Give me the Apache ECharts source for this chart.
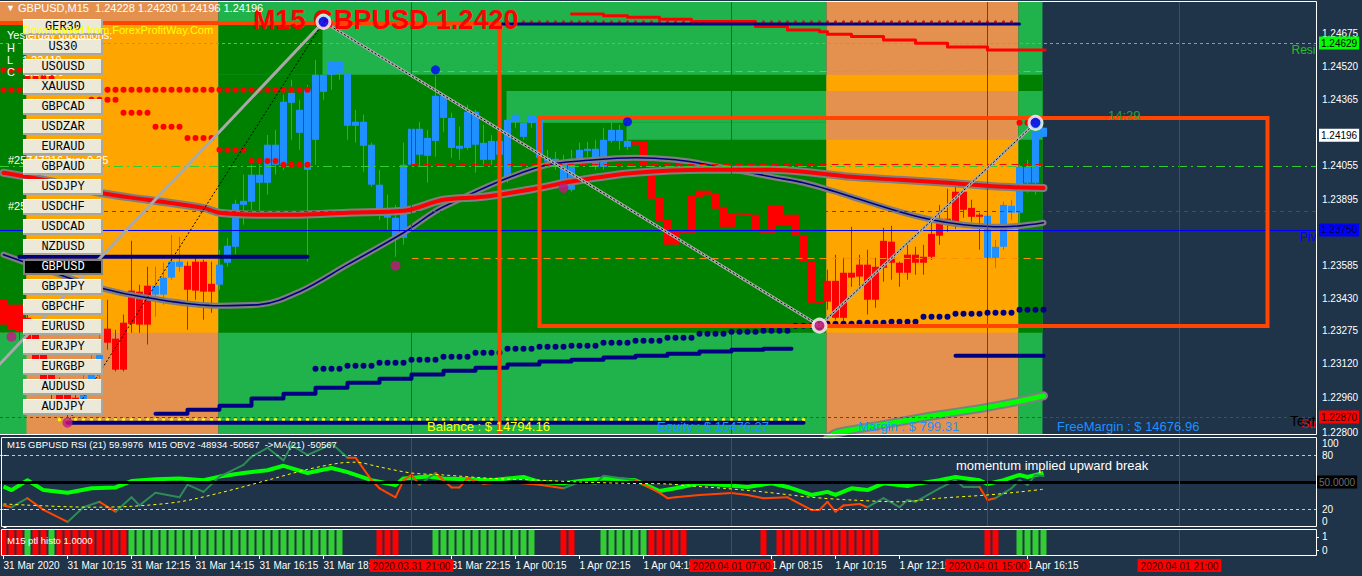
<!DOCTYPE html>
<html>
<head>
<meta charset="utf-8">
<script src="https://cdn.jsdelivr.net/npm/echarts@6/dist/echarts.min.js"></script>
<style>
html,body{margin:0;padding:0;background:#1f3349;overflow:hidden}
#chart{width:1362px;height:576px}
</style>
</head>
<body>
<div id="chart"></div>
<script>
// ================= DATA =================
// M15 bars, index 0 = 31 Mar 08:15
const timeTickIndex = [0,8,16,24,32,40,56,64,72,80,96,104,112,128];
const timeTickText = ['31 Mar 2020','31 Mar 10:15','31 Mar 12:15','31 Mar 14:15','31 Mar 16:15','31 Mar 18:15','31 Mar 22:15','1 Apr 00:15','1 Apr 02:15','1 Apr 04:15','1 Apr 08:15','1 Apr 10:15','1 Apr 12:15','1 Apr 16:15'];
const priceTicks = [1.22800,1.22960,1.23120,1.23275,1.23430,1.23585,1.23740,1.23895,1.24055,1.24210,1.24365,1.24520,1.24675];
// tick labels that are not covered by the price tags
const priceTickLabels = [1.22800,1.22960,1.23120,1.23275,1.23430,1.23585,1.23895,1.24055,1.24365,1.24520,1.24675];

// candles [open, close, low, high]
const candles = [
[1.23422,1.23305,1.23267,1.23469],[1.23399,1.23281,1.23258,1.23431],[1.23399,1.23272,1.23234,1.23422],[1.23337,1.23211,1.23187,1.23375],
[1.23258,1.23117,1.23084,1.23290],[1.23164,1.23046,1.23008,1.23211],[1.23093,1.22976,1.22943,1.23131],[1.23023,1.22929,1.22896,1.23055],
[1.22976,1.22905,1.22868,1.23008],[1.22961,1.22924,1.22882,1.23023],[1.22952,1.23023,1.22929,1.23093],[1.22999,1.23117,1.22976,1.23164],
[1.23084,1.23211,1.23046,1.23258],[1.23286,1.23220,1.23187,1.23422],[1.23239,1.23093,1.23084,1.23281],[1.23314,1.23093,1.23084,1.23352],
[1.23465,1.23309,1.23267,1.23699],[1.23460,1.23305,1.23267,1.23493],[1.23488,1.23305,1.23211,1.23577],[1.23446,1.23488,1.23342,1.23577],
[1.23446,1.23526,1.23399,1.23596],[1.23526,1.23601,1.23516,1.23727],[1.23577,1.23601,1.23554,1.23718],[1.23582,1.23469,1.23281,1.23601],
[1.23601,1.23465,1.23422,1.23619],[1.23601,1.23460,1.23328,1.23610],[1.23497,1.23460,1.23361,1.23601],[1.23493,1.23587,1.23469,1.23657],
[1.23596,1.23676,1.23577,1.23713],[1.23671,1.23873,1.23634,1.23892],[1.23868,1.23887,1.23775,1.24010],[1.23883,1.24010,1.23845,1.24057],
[1.23972,1.24010,1.23831,1.24080],[1.23972,1.24151,1.23916,1.24197],[1.24057,1.24151,1.24010,1.24221],[1.24057,1.24353,1.24033,1.24386],
[1.24348,1.24395,1.24174,1.24456],[1.24207,1.24315,1.24127,1.24362],[1.24033,1.24409,1.23601,1.24432],[1.24174,1.24480,1.24057,1.24550],
[1.24400,1.24480,1.24362,1.24729],[1.24480,1.24541,1.24409,1.24621],[1.24489,1.24541,1.24456,1.24597],[1.24240,1.24484,1.24174,1.24503],
[1.24240,1.24259,1.24160,1.24315],[1.24146,1.24259,1.24024,1.24292],[1.23963,1.24151,1.23953,1.24160],[1.23831,1.23963,1.23798,1.24033],
[1.23808,1.23836,1.23751,1.23916],[1.23713,1.23808,1.23624,1.23868],[1.23713,1.24057,1.23681,1.24160],[1.24057,1.24226,1.24033,1.24268],
[1.24104,1.24226,1.24047,1.24259],[1.24099,1.24183,1.23972,1.24221],[1.24169,1.24381,1.24094,1.24475],[1.24277,1.24381,1.24212,1.24386],
[1.24136,1.24277,1.24090,1.24301],[1.24132,1.24146,1.24080,1.24235],[1.24136,1.24306,1.24127,1.24339],[1.24151,1.24306,1.24019,1.24315],
[1.24080,1.24160,1.24057,1.24245],[1.24080,1.24169,1.24057,1.24197],[1.24104,1.24169,1.24080,1.24221],[1.23986,1.24268,1.23972,1.24292],
[1.24259,1.24292,1.24231,1.24324],[1.24188,1.24254,1.24174,1.24277],[1.24254,1.24287,1.24231,1.24315],[1.24090,1.24277,1.24080,1.24296],
[1.24071,1.24090,1.24057,1.24127],[1.24071,1.24085,1.24033,1.24118],[1.23972,1.24075,1.23958,1.24104],[1.23939,1.24085,1.23930,1.24127],
[1.24085,1.24127,1.24066,1.24160],[1.24122,1.24132,1.24094,1.24165],[1.24047,1.24132,1.24033,1.24174],[1.24047,1.24174,1.24033,1.24231],
[1.24169,1.24221,1.24160,1.24254],[1.24169,1.24221,1.24127,1.24245],[1.24141,1.24169,1.24127,1.24231],[1.24165,1.24151,1.24033,1.24174],
[1.24165,1.24057,1.23986,1.24174],[1.24057,1.23897,1.23868,1.24080],[1.23901,1.23793,1.23775,1.23963],[1.23798,1.23681,1.23624,1.23878],
[1.23742,1.23681,1.23671,1.23878],[1.23746,1.23737,1.23671,1.23789],[1.23911,1.23737,1.23681,1.24000],[1.23935,1.23906,1.23775,1.23986],
[1.23935,1.23916,1.23727,1.23953],[1.23920,1.23850,1.23765,1.23963],[1.23859,1.23765,1.23737,1.23939],[1.23826,1.23765,1.23751,1.23868],
[1.23831,1.23822,1.23789,1.23854],[1.23826,1.23817,1.23775,1.23868],[1.23822,1.23742,1.23713,1.23845],[1.23751,1.23737,1.23704,1.23798],
[1.23868,1.23737,1.23723,1.23916],[1.23864,1.23770,1.23751,1.23916],[1.23822,1.23770,1.23704,1.23845],[1.23822,1.23727,1.23681,1.23831],
[1.23727,1.23601,1.23587,1.23742],[1.23601,1.23408,1.23375,1.23634],[1.23413,1.23404,1.23300,1.23554],[1.23511,1.23413,1.23375,1.23563],
[1.23511,1.23337,1.23328,1.23634],[1.23549,1.23337,1.23319,1.23619],[1.23549,1.23526,1.23483,1.23765],[1.23587,1.23531,1.23483,1.23634],
[1.23587,1.23422,1.23352,1.23657],[1.23577,1.23422,1.23384,1.23619],[1.23699,1.23572,1.23507,1.23760],[1.23695,1.23596,1.23516,1.23770],
[1.23596,1.23549,1.23483,1.23601],[1.23634,1.23549,1.23516,1.23690],[1.23634,1.23596,1.23540,1.23671],[1.23624,1.23596,1.23540,1.23681],
[1.23732,1.23624,1.23610,1.23789],[1.23803,1.23723,1.23681,1.23868],[1.23803,1.23775,1.23742,1.23944],[1.23930,1.23775,1.23756,1.23963],
[1.23930,1.23845,1.23808,1.23963],[1.23854,1.23812,1.23789,1.23892],[1.23822,1.23812,1.23657,1.23831],[1.23619,1.23817,1.23619,1.23845],
[1.23619,1.23671,1.23572,1.23704],[1.23671,1.23868,1.23657,1.23883],[1.23831,1.23864,1.23798,1.23892],[1.23831,1.24047,1.23775,1.24057],
[1.23972,1.24047,1.23925,1.24080],[1.23972,1.24212,1.23916,1.24254],[1.24188,1.24231,1.24188,1.24231]
];

// session boxes [fromBar, toBar, topPrice, bottomPrice, colour]
const sessionZones = [
[-2,27,1.2490,1.2270,'sand'],[-2,3,1.24729,1.23267,'dark'],[-2,3,1.23267,1.2270,'light'],[3,27,1.24729,1.23267,'orange'],
[27,103,1.2490,1.2270,'light'],[27,103,1.24480,1.23267,'dark'],[27,40,1.24729,1.24480,'dark'],
[63,103,1.24404,1.24254,'light'],[78,103,1.24254,1.24174,'light'],
[103,127,1.2490,1.2270,'sand'],[103,127,1.24480,1.23267,'orange'],[103,127,1.24404,1.24174,'sand'],
[127,130,1.2490,1.2270,'light'],[127,130,1.24480,1.23267,'dark'],[127,130,1.24404,1.24174,'light']
];
// rectangle objects [fromBar, toBar, top, bottom]
const rectObjects = [[-8,62,1.24724,1.2260],[67,158,1.24277,1.23298]];

const ma1 = [[0,1.24019],[6,1.23978],[12,1.23925],[18,1.23892],[25,1.23854],[27,1.23831],[32,1.23822],[37,1.23822],[43,1.23831],[50,1.23840],[55,1.23892],[60,1.23906],[67,1.23948],[71,1.23978],[79,1.24019],[88,1.24033],[96,1.24033],[100,1.24024],[106,1.24000],[112,1.23986],[118,1.23972],[125,1.23953],[130,1.23948]];
const ma2 = [[0,1.23634],[6,1.23554],[12,1.23478],[18,1.23431],[27,1.23394],[32,1.23399],[37,1.23460],[43,1.23587],[50,1.23737],[55,1.23859],[67,1.24047],[74,1.24080],[79,1.24090],[84,1.24080],[88,1.24057],[96,1.24000],[100,1.23972],[104,1.23930],[106,1.23906],[112,1.23836],[116,1.23798],[120,1.23775],[125,1.23765],[130,1.23784]];
const maLime = [[103,1.22770],[104,1.22795],[110,1.22835],[116,1.22875],[122,1.22910],[127,1.22945],[130,1.22970]];

const redStepTop = [[71,1.24766],[75,1.24758],[78,1.24751],[82,1.24741],[86,1.24730],[94,1.24707],[98,1.24691],[102,1.24682],[103,1.24671],[106,1.24660],[110,1.24644],[114,1.24628],[118,1.24610],[123,1.24597],[130.2,1.24597]];
const navyStepLow = [[19,1.22886],[23,1.22905],[27,1.22924],[31,1.22957],[35,1.22980],[39,1.23008],[43,1.23032],[47,1.23051],[51,1.23070],[55,1.23088],[59,1.23102],[63,1.23117],[67,1.23131],[71,1.23140],[75,1.23150],[79,1.23159],[83,1.23168],[87,1.23178],[91,1.23187],[95,1.23192],[98.5,1.23192]];
const navyLevels = [ [[2,1.23624],[38,1.23624]], [[8,1.22844],[100,1.22844]], [[62,1.24719],[127,1.24719]], [[119,1.23159],[130,1.23159]] ];

// dotted rows [fromBar, toBar, price, kind]
const dotRows = [
[0,2,1.24503,'red'],[3,6,1.24465,'red'],[7,10,1.24414,'red'],[11,14,1.24362,'red'],[15,18,1.24301,'red'],[19,22,1.24235,'red'],
[23,26,1.24183,'red'],[27,30,1.24127,'red'],[31,34,1.24075,'red'],[35,38,1.24057,'red'],[127,128,1.24254,'red'],[0,38,1.24409,'red'],
[39,42,1.23098,'navy'],[43,46,1.23112,'navy'],[47,50,1.23126,'navy'],[51,54,1.23140,'navy'],[55,58,1.23154,'navy'],[59,62,1.23173,'navy'],
[63,66,1.23192,'navy'],[67,70,1.23201,'navy'],[71,74,1.23206,'navy'],[75,78,1.23220,'navy'],[79,82,1.23229,'navy'],[83,86,1.23243,'navy'],
[87,90,1.23262,'navy'],[91,94,1.23272,'navy'],[95,98,1.23276,'navy'],[99,102,1.23300,'navy'],[103,106,1.23309,'navy'],[107,110,1.23314,'navy'],
[111,114,1.23319,'navy'],[115,118,1.23342,'navy'],[119,122,1.23356,'navy'],[123,126,1.23361,'navy'],[127,130,1.23375,'navy'],
[7,100,1.22858,'yellow'],[63,126,1.24729,'small']
];

const zigzagOuter = [[-1,1.23098],[40,1.24729]];
const zigzagInner = [[8,1.22844],[40,1.24729]];
const zigzagMain = [[40,1.24729],[102,1.23300],[129,1.24254]];
const zigzagPoints = [[40,1.24729,'#0000FF'],[102,1.23300,'#C71585'],[129,1.24254,'#0000FF']];
const fractalUp = [[54,1.24503],[78,1.24259]];
const fractalDown = [[1,1.23248],[8,1.22844],[49,1.23582],[70,1.23948]];

// horizontal levels
const resistance = 1.24629, pivot = 1.23750, support = 1.22870, bid = 1.24196;
const levelR1 = 1.24052, levelStop = 1.23840;
const dayLevels = [[51,130,1.24498,'#FF8C00'],[51,130,1.23619,'#FF8C00'],[51,130,1.24057,'#FF0000']];
const levelTexts = [[161,resistance,'Resistance','#22C022',12],[162,pivot,'Pivot','#0000FF',12],[160.8,support,'Text','#000000',14],[162.2,support,'Support','#FF0000',12]];

// vertical lines
const vLines = [[51,'2020.03.31 21:00'],[91,'2020.04.01 07:00'],[123,'2020.04.01 15:00'],[147,'2020.04.01 21:00']];

// RSI / OBV panel
const rsiLine = [[0,44.8],[1,41],[3,52],[5,41],[8,38],[11,43],[14,44],[16,51],[19,53],[22,54],[25,52],[27,56],[30,60],[33,63],[35,68],[38,60],[41,65.5],[43,61],[46,52],[49,46.7],[50,54],[53,56],[55,54],[58,53],[61,52],[65,55.6],[67,50],[70,48.5],[72,51],[75,54],[79,52],[82,40],[84,43],[87,48.5],[90,46.7],[93,44.5],[96,48.5],[98,44.5],[101,35.6],[103,39],[104,35.6],[106,43],[108,41],[110,48.5],[113,45.6],[114,47.8],[117,52],[119,55.6],[122,52],[123,47.8],[125,52],[127,57.8],[128,55.6],[130,60]];
const obvLine = [[0,24,'r'],[1,22,'r'],[3,32,'g'],[5,19,'r'],[8,5.6,'r'],[10,22,'g'],[12,28,'g'],[14,17,'r'],[16,33,'g'],[17,24,'g'],[19,38,'g'],[22,33,'g'],[23,47,'g'],[25,39,'g'],[27,56,'g'],[30,69,'g'],[31,78,'g'],[33,88,'g'],[35,74,'g'],[36,91,'g'],[38,80,'g'],[40,88,'g'],[41,93,'g'],[43,77,'g'],[44,77,'r'],[46,52,'r'],[47,43,'r'],[49,33,'r'],[50,52,'r'],[51,58,'r'],[52,47,'r'],[54,60,'g'],[56,44,'r'],[57,44,'r'],[58,54,'r'],[60,48,'r'],[63,50,'r'],[67,47,'r'],[70,43,'r'],[72,50,'g'],[74,48,'g'],[75,57,'g'],[79,52,'g'],[82,38,'r'],[83,32,'r'],[84,33,'r'],[87,35.6,'r'],[91,37.8,'r'],[93,35.6,'r'],[95,32,'r'],[98,33,'r'],[101,19,'r'],[102,19,'r'],[103,28,'r'],[104,17,'r'],[105,24,'r'],[107,25.6,'r'],[108,22,'r'],[110,32,'g'],[112,22,'g'],[113,30,'g'],[114,28,'g'],[117,43,'g'],[119,52,'g'],[120,44.5,'g'],[122,44.5,'g'],[123,30,'r'],[124,32,'r'],[126,43,'g'],[127,52,'g'],[128,46.7,'g'],[129,57.8,'g'],[130,56.7,'g']];
const obvMa = [[0,25.6],[11,22],[16,23],[22,28],[27,37.8],[33,52],[38,64],[42,71],[44,72],[47,66.7],[51,60],[55,57.8],[61,54],[67,52],[72,50],[78,48.5],[83,47.8],[86,45.6],[90,43],[95,39],[101,33],[106,30],[112,28],[117,32],[123,35.6],[127,39],[130,42]];

// histogram colours per bar (r = red, g = green, - = none)
const histoColors = ('rrrgrrgrrrrrrrrr' + 'ggggggggggggggggggggggggggg' + '----' + 'rrr' + '----' + 'ggggggggggggg' + '---' + 'rr' + '---' +
  'gggggg' + 'rrrrr' + '---------' + 'r' + '-' + 'rrrrrrrrrrrrr' + '-------------' + 'rr' + '--' + 'gggg').split('');

const symbols = ['GER30','US30','USOUSD','XAUUSD','GBPCAD','USDZAR','EURAUD','GBPAUD','USDJPY','USDCHF','USDCAD','NZDUSD','GBPUSD','GBPJPY','GBPCHF','EURUSD','EURJPY','EURGBP','AUDUSD','AUDJPY'];
const selectedSymbol = 'GBPUSD';

// ================= CHART =================
const FONT = 'Liberation Sans, Arial, sans-serif';
const X_MIN = -0.4375, X_MAX = 164.0625;
const zoneColor = {sand:'#E4914F', orange:'#FFA500', light:'#20B24B', dark:'#008000'};
const dotStyle = {red:['#FF0000',6], navy:['#000080',6], yellow:['#FFFF00',3.5], small:['#FF0000',3]};
const UP = '#1E90FF', DOWN = '#FF0000';

const chart = echarts.init(document.getElementById('chart'), null, {renderer:'svg', width:1362, height:576});

const series = [];
function add(s){ s.animation = false; series.push(s); return series.length - 1; }

// session zones
add({type:'custom', xAxisIndex:0, yAxisIndex:0, z:1, clip:true, silent:true,
  data: sessionZones.map(z => [z[0], z[2], z[1], z[3]]),
  renderItem(params, api){
    const z = sessionZones[params.dataIndex];
    const a = api.coord([z[0], z[2]]), b = api.coord([z[1], z[3]]);
    return {type:'rect', shape:{x:a[0]-1, y:a[1], width:b[0]-a[0], height:b[1]-a[1]}, style:{fill:zoneColor[z[4]]}};
  }});

// candles
add({type:'custom', xAxisIndex:0, yAxisIndex:0, z:3, clip:true, silent:true,
  data: candles.map((c, i) => [i, c[0], c[1], c[2], c[3]]),
  renderItem(params, api){
    const i = api.value(0), o = api.value(1), c = api.value(2), l = api.value(3), h = api.value(4);
    const po = api.coord([i, o]), pc = api.coord([i, c]), pl = api.coord([i, l]), ph = api.coord([i, h]);
    const col = c > o ? UP : DOWN;
    const top = Math.min(po[1], pc[1]), bot = Math.max(po[1], pc[1]);
    return {type:'group', children:[
      {type:'rect', shape:{x:po[0]-0.5, y:ph[1], width:1, height:pl[1]-ph[1]}, style:{fill:col}},
      {type:'rect', shape:{x:po[0]-3.5, y:top, width:7, height:Math.max(1, bot-top)}, style:{fill:col}}
    ]};
  }});

// moving averages
function lineS(data, color, width, z, extra){
  return Object.assign({type:'line', xAxisIndex:0, yAxisIndex:0, data, showSymbol:false, symbol:'none', silent:true, z,
    lineStyle:{color, width, cap:'round', join:'round'}}, extra || {});
}
add(lineS(ma2, '#7F7F7F', 6, 4, {smooth:0.35}));
const ma2Core = add(lineS(ma2, '#000080', 1.6, 4, {smooth:0.35}));
add(lineS(ma1, '#7F7F7F', 8, 4, {smooth:0.35}));
add(lineS(ma1, '#FF0000', 4, 4, {smooth:0.35}));
add(lineS(maLime, '#7F7F7F', 9, 4, {smooth:0.2}));
add(lineS(maLime, '#00FF00', 5, 4, {smooth:0.2}));

// stepped lines
add(lineS(redStepTop, '#FF0000', 3, 5, {step:'end'}));
add(lineS(navyStepLow, '#000080', 4, 5, {step:'end'}));
navyLevels.forEach((d, k) => add(lineS(d, '#000080', k === 2 ? 3 : 4, 5)));

// dotted rows
add({type:'custom', xAxisIndex:0, yAxisIndex:0, z:5, clip:true, silent:true,
  data: dotRows.map(d => [d[0], d[2], d[1]]),
  renderItem(params, api){
    const d = dotRows[params.dataIndex];
    const a = api.coord([d[0], d[2]]), b = api.coord([d[1], d[2]]);
    const st = dotStyle[d[3]];
    return {type:'line', shape:{x1:a[0], y1:a[1], x2:b[0]+0.01, y2:b[1]},
      style:{stroke:st[0], lineWidth:st[1], lineCap:'round', lineDash:[0, 8]}};
  }});

// rectangle objects
add({type:'custom', xAxisIndex:0, yAxisIndex:0, z:6, clip:true, silent:true,
  data: rectObjects.map(r => [r[0], r[2], r[1], r[3]]),
  renderItem(params, api){
    const r = rectObjects[params.dataIndex];
    const a = api.coord([r[0], r[2]]), b = api.coord([r[1], r[3]]);
    return {type:'rect', shape:{x:a[0], y:a[1], width:b[0]-a[0], height:b[1]-a[1]}, style:{fill:'none', stroke:'#FF4500', lineWidth:4}};
  }});

const tagLabel = (text, bg, fg) => ({show:true, position:'end', distance:3, formatter:text, backgroundColor:bg, color:fg,
  fontFamily:FONT, fontSize:10, padding:[2,2,1,2]});

// horizontal levels + vertical lines (main)
add({type:'line', xAxisIndex:0, yAxisIndex:0, data:[], z:6, silent:true,
  markLine:{symbol:'none', silent:true, animation:false, precision:6, label:{show:false}, data:[
    {yAxis:resistance, lineStyle:{color:'#00FF00', type:[3,3], width:1}, label:tagLabel('1.24629', '#00FF00', '#000')},
    {yAxis:levelR1, lineStyle:{color:'#32CD32', type:[9,4,2,4], width:1}},
    {yAxis:levelStop, lineStyle:{color:'#FF0000', type:[4,4], width:1}},
    {yAxis:support, lineStyle:{color:'#FF0000', type:[3,3], width:1}, label:tagLabel('1.22870', '#FF0000', '#300000')},
    {yAxis:bid, lineStyle:{color:'rgba(0,0,0,0)', width:1}, label:tagLabel('1.24196', '#FFFFFF', '#000')},
    ...dayLevels.map(d => [{coord:[d[0], d[2]], lineStyle:{color:d[3], type:[7,5], width:1}}, {coord:[d[1], d[2]]}]),
    ...vLines.map(v => ({xAxis:v[0], lineStyle:{color:'#FF0000', type:'solid', width:1}}))
  ]}});

// zigzag
add(lineS(zigzagOuter, '#A9A9A9', 3, 7));
add(lineS(zigzagInner, '#000000', 1, 7, {lineStyle:{color:'#000', width:1, type:[2,2]}}));
add(lineS(zigzagMain, '#A9A9A9', 3, 7));
add(lineS(zigzagMain, '#000000', 1, 7, {lineStyle:{color:'#000', width:1, type:[2,2]}}));

// markers
add({type:'scatter', xAxisIndex:0, yAxisIndex:0, z:8, silent:true, symbol:'circle', symbolSize:9,
  data: fractalUp, itemStyle:{color:'#0000FF'}});
add({type:'scatter', xAxisIndex:0, yAxisIndex:0, z:8, silent:true, symbol:'circle', symbolSize:10,
  data: fractalDown, itemStyle:{color:'#C71585'}});
add({type:'scatter', xAxisIndex:0, yAxisIndex:0, z:9, silent:true, symbol:'circle', symbolSize:13,
  data: zigzagPoints.map(p => ({value:[p[0], p[1]], itemStyle:{color:p[2], borderColor:'#FFFFFF', borderWidth:3}}))});

// pivot line drawn over the symbol buttons
add({type:'line', xAxisIndex:0, yAxisIndex:0, data:[], z:11, silent:true,
  markLine:{symbol:'none', silent:true, animation:false, precision:6, data:[
    {yAxis:pivot, lineStyle:{color:'#0000FF', type:'solid', width:1}, label:tagLabel('1.23750', '#0000FF', '#000040')}
  ]}});

// level texts (clipped at chart border)
add({type:'custom', xAxisIndex:0, yAxisIndex:0, z:12, clip:true, silent:true,
  data: levelTexts.map(t => [t[0], t[1]]),
  renderItem(params, api){
    const t = levelTexts[params.dataIndex];
    const p = api.coord([t[0], t[1]]);
    return {type:'text', x:p[0], y:p[1] + (t[4] > 12 ? -3 : 1),
      style:{text:t[2], fill:t[3], font:t[4] + 'px ' + FONT, align:'left', verticalAlign:'top'}};
  }});

// ---- RSI / OBV panel ----
add({type:'line', xAxisIndex:1, yAxisIndex:1, data:rsiLine, z:3, symbol:'none', silent:true,
  lineStyle:{color:'#00FF00', width:4, join:'round'},
  markLine:{symbol:'none', silent:true, animation:false, precision:6, data:[
    {yAxis:80, lineStyle:{color:'#C8C8C8', type:[3,3], width:1}, label:{show:false}},
    {yAxis:20, lineStyle:{color:'#C8C8C8', type:[3,3], width:1}, label:{show:false}},
    {yAxis:50, lineStyle:{color:'#000000', type:'solid', width:3},
      label:{show:true, position:'end', distance:1, formatter:'50.0000', backgroundColor:'#000', color:'#6E6E6E', fontFamily:FONT, fontSize:10, padding:[2,2,1,2]}},
    ...vLines.map(v => ({xAxis:v[0], lineStyle:{color:'#FF0000', type:'solid', width:1}, label:{show:false}}))
  ]}});
const obvSegs = obvLine.slice(1).map((p, k) => [obvLine[k][0], obvLine[k][1], p[0], p[1], p[2]]);
add({type:'custom', xAxisIndex:1, yAxisIndex:1, z:4, clip:true, silent:true,
  data: obvSegs.map(s => [s[0], s[1], s[2], s[3]]),
  renderItem(params, api){
    const s = obvSegs[params.dataIndex];
    const a = api.coord([s[0], s[1]]), b = api.coord([s[2], s[3]]);
    return {type:'line', shape:{x1:a[0], y1:a[1], x2:b[0], y2:b[1]},
      style:{stroke: s[4] === 'g' ? '#2E8B57' : '#FF4500', lineWidth:2, lineCap:'round'}};
  }});
add({type:'line', xAxisIndex:1, yAxisIndex:1, data:obvMa, z:5, symbol:'none', silent:true, smooth:0.3,
  lineStyle:{color:'#FFFF00', width:1, type:[3,3]}});

// ---- histogram panel ----
add({type:'bar', xAxisIndex:2, yAxisIndex:2, z:3, barWidth:6, silent:true,
  data: histoColors.map((c, i) => c === '-' ? null : {value:[i, 1], itemStyle:{color: c === 'g' ? '#32CD32' : '#FF0000'}}).filter(d => d),
  markLine:{symbol:'none', silent:true, animation:false, precision:6, data:
    vLines.map(v => ({xAxis:v[0], lineStyle:{color:'#FF0000', type:'solid', width:1},
      label:{show:true, position:'start', distance:4, formatter:v[1], backgroundColor:'#FF0000', color:'#3A0000',
        fontFamily:FONT, fontSize:10, padding:[2,3,1,3]}}))
  }});

// ================= GRAPHIC (UI chrome / text objects) =================
const graphics = [];
function txt(x, y, text, fill, font, z, extra){
  graphics.push(Object.assign({type:'text', x, y, z, silent:true,
    style:{text, fill, font, align:'left', verticalAlign:'middle', textAlign:'left', textVerticalAlign:'middle'}}, extra || {}));
}
// texts under the buttons
txt(7, 35, 'Yesterday quotations:', '#FFFFFF', '11px ' + FONT, 9);
txt(7, 48, 'H   1.24724', '#FFFFFF', '11px ' + FONT, 9);
txt(7, 60, 'L   1.22419', '#FFFFFF', '11px ' + FONT, 9);
txt(7, 72, 'C   1.24100', '#FFFFFF', '11px ' + FONT, 9);
txt(8, 160, '#25747216 buy 0.25', '#FFFFFF', '11px ' + FONT, 9);
txt(8, 206, '#25747216 sl', '#FFFFFF', '11px ' + FONT, 9);
// buttons
symbols.forEach((s, k) => {
  const y = 19 + 20 * k, sel = s === selectedSymbol;
  graphics.push({type:'rect', z:10, silent:true, shape:{x:23, y, width:80, height:16},
    style:{fill: sel ? '#000000' : '#ECE9D8'}});
  if (sel) {
    graphics.push({type:'rect', z:10, silent:true, shape:{x:24, y:y+1, width:78, height:14},
      style:{fill:'none', stroke:'#808080', lineWidth:2}});
  } else {
    graphics.push({type:'polyline', z:10, silent:true, shape:{points:[[23.5, y+15], [23.5, y+0.5], [102.5, y+0.5]]},
      style:{stroke:'#FFFFFF', lineWidth:1, fill:'none'}});
    graphics.push({type:'polyline', z:10, silent:true, shape:{points:[[23, y+15], [102, y+15], [102, y]]},
      style:{stroke:'#A8A8A0', lineWidth:2, fill:'none'}});
  }
  graphics.push({type:'text', z:10, silent:true, x:63, y:y+8,
    style:{text:s, fill: sel ? '#FFFFFF' : '#000000', font:'12px Liberation Mono, monospace', align:'center', verticalAlign:'middle', textAlign:'center', textVerticalAlign:'middle'}});
});
// texts over everything
txt(6, 8, '\u25BC', '#FFFFFF', '9px ' + FONT, 12);
txt(18, 8, 'GBPUSD,M15  1.24228 1.24230 1.24196 1.24196', '#FFFFFF', '11px ' + FONT, 12);
txt(23, 30, 'Downloaded from ForexProfitWay.Com', '#FFFF00', '11px ' + FONT, 12);
txt(253, 19.5, 'M15 GBPUSD 1.2420', '#FF0000', 'bold 27px ' + FONT, 8);
txt(1108, 115, '14:29', '#2E9F3A', '13px ' + FONT, 12);
txt(427, 426, 'Balance : $ 14794.16', '#FFFF00', '13px ' + FONT, 12);
txt(657, 426, 'Equity : $ 15476.27', '#1E90FF', '13px ' + FONT, 12);
txt(858, 426, 'Margin : $ 799.31', '#1E90FF', '13px ' + FONT, 12);
txt(1057, 426, 'FreeMargin : $ 14676.96', '#1E90FF', '13px ' + FONT, 12);
txt(7, 444, 'M15 GBPUSD RSI (21) 59.9976  M15 OBV2 -48934 -50567  ->MA(21) -50567', '#FFFFFF', '9.5px ' + FONT, 12);
txt(956, 465, 'momentum implied upward break', '#FFFFFF', '13px ' + FONT, 12);
txt(7, 540, 'M15 ptl histo 1.0000', '#FFFFFF', '9.5px ' + FONT, 12);
// panel borders
const borderStyle = {stroke:'#FFFFFF', lineWidth:1, fill:'none'};
graphics.push({type:'polyline', z:13, silent:true, shape:{points:[[0,1.5],[1316.5,1.5],[1316.5,434.5],[0,434.5]]}, style:borderStyle});
graphics.push({type:'rect', z:13, silent:true, shape:{x:1.5, y:437.5, width:1315, height:89}, style:borderStyle});
graphics.push({type:'rect', z:13, silent:true, shape:{x:1.5, y:529.5, width:1315, height:26}, style:borderStyle});

// ================= AXES =================
const labelMap = {};
timeTickIndex.forEach((v, k) => labelMap[v] = timeTickText[k]);
function xAx(g, show){
  return {type:'value', gridIndex:g, min:X_MIN, max:X_MAX, show:true,
    axisLine:{show:false}, splitLine:{show:false},
    axisTick:{show:show, customValues:timeTickIndex, length:4, lineStyle:{color:'#FFFFFF'}},
    axisLabel:{show:show, customValues:timeTickIndex, formatter:v => labelMap[v] || '', color:'#FFFFFF',
      fontFamily:FONT, fontSize:10, align:'left', margin:5}};
}

chart.setOption({
  backgroundColor:'#1f3349',
  animation:false,
  grid:[
    {left:0, top:2, width:1316, height:432},
    {left:0, top:437, width:1316, height:90},
    {left:0, top:530, width:1316, height:25}
  ],
  xAxis:[xAx(0, false), xAx(1, false), xAx(2, true)],
  yAxis:[
    {type:'value', gridIndex:0, position:'right', min:1.227906, max:1.248222, splitLine:{show:false},
      axisLine:{show:false},
      axisTick:{show:true, customValues:priceTicks, length:3, lineStyle:{color:'#FFFFFF'}},
      axisLabel:{customValues:priceTickLabels, formatter:v => v.toFixed(5), color:'#FFFFFF', fontFamily:FONT, fontSize:10, margin:6}},
    {type:'value', gridIndex:1, position:'right', min:0, max:100, splitLine:{show:false}, axisLine:{show:false},
      axisTick:{show:true, customValues:[0,20,80,100], length:3, lineStyle:{color:'#FFFFFF'}},
      axisLabel:{customValues:[0,20,80,100], color:'#FFFFFF', fontFamily:FONT, fontSize:10, margin:6,
        formatter:v => v === 100 ? '{t|100}' : (v === 0 ? '{b|0}' : String(v)),
        rich:{t:{padding:[12,0,0,0], color:'#FFFFFF', fontFamily:FONT, fontSize:10}, b:{padding:[0,0,12,0], color:'#FFFFFF', fontFamily:FONT, fontSize:10}}}},
    {type:'value', gridIndex:2, position:'right', min:0, max:1, show:false},
    {type:'value', gridIndex:2, position:'right', min:-0.333, max:1.5, splitLine:{show:false}, axisLine:{show:false},
      axisTick:{show:true, customValues:[0,1], length:3, lineStyle:{color:'#FFFFFF'}},
      axisLabel:{customValues:[0,1], color:'#FFFFFF', fontFamily:FONT, fontSize:10, margin:6}}
  ],
  visualMap:[{type:'piecewise', show:false, seriesIndex:ma2Core, dimension:0,
    pieces:[{lt:27, color:'#FF0000'}, {gte:27, lt:88, color:'#000080'}, {gte:88, color:'#FF0000'}]}],
  series,
  graphic:{elements:graphics}
});
</script>
</body>
</html>
